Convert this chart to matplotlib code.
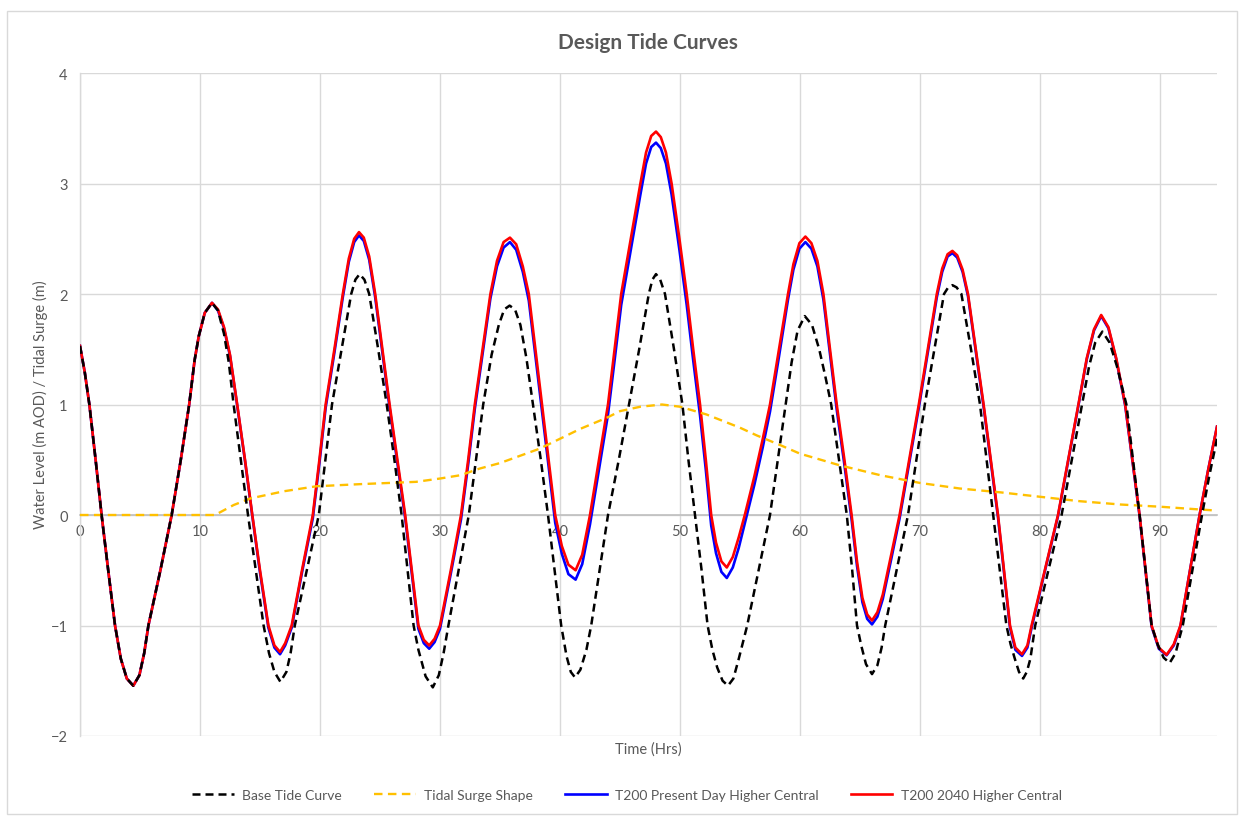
import matplotlib
matplotlib.use("Agg")
import matplotlib.pyplot as plt
from matplotlib.patches import Rectangle

plt.rcParams['font.family'] = ['Lato', 'DejaVu Sans']

# ---- data ----
t_t200 = [0, 0.4, 0.78, 1.3, 1.8, 2.35, 2.92, 3.4, 3.9, 4.44, 4.95, 5.35, 5.7, 6.7, 7.64, 8.4, 9.1,
          9.55, 9.9, 10.4, 11.0, 11.5, 12.0, 12.5, 13.1, 13.75, 14.36, 15.0, 15.7, 16.2, 16.67, 17.1,
          17.64, 18.5, 19.4, 19.95, 20.47, 21.2, 21.9, 22.4, 22.85, 23.25, 23.65, 24.1, 24.6, 25.2,
          25.8, 26.45, 27.1, 27.65, 28.2, 28.65, 29.1, 29.55, 30.0, 30.9, 31.75, 32.35, 32.9, 33.55,
          34.2, 34.75, 35.3, 35.83, 36.35, 36.9, 37.4, 37.95, 38.5, 39.05, 39.6, 40.15, 40.7, 41.3,
          41.85, 42.5, 43.25, 44.0, 44.55, 45.1, 45.9, 46.7, 47.17, 47.6, 48.0, 48.4, 48.83, 49.3,
          49.95, 50.56, 51.1, 51.67, 52.15, 52.6, 53.0, 53.45, 53.9, 54.4, 54.9, 55.4, 56.2, 56.9,
          57.5, 58.25, 59.0, 59.45, 59.95, 60.45, 60.95, 61.45, 61.95, 62.5, 63.06, 63.7, 64.3,
          64.75, 65.2, 65.6, 66.0, 66.45, 66.9, 67.6, 68.3, 69.1, 69.9, 70.65, 71.4, 71.85, 72.3,
          72.7, 73.1, 73.55, 74.0, 74.65, 75.3, 75.9, 76.5, 77.0, 77.5, 77.95, 78.5, 78.95, 79.3,
          80.4, 81.5, 82.35, 83.2, 83.9, 84.5, 85.1, 85.7, 86.35, 87.1, 87.7, 88.3, 88.8, 89.3,
          89.9, 90.55, 91.15, 91.7, 92.5, 93.3, 94.0, 94.75]

t200_2040 = [1.53, 1.29, 1.0, 0.5, 0.0, -0.5, -1.0, -1.3, -1.48, -1.545, -1.45, -1.25, -1.0, -0.5,
             0.0, 0.5, 1.0, 1.4, 1.62, 1.83, 1.92, 1.86, 1.70, 1.45, 1.0, 0.5, 0.0, -0.5, -1.0,
             -1.18, -1.24, -1.16, -1.0, -0.5, 0.0, 0.5, 1.0, 1.5, 2.0, 2.32, 2.50, 2.56, 2.51, 2.34,
             2.0, 1.5, 1.0, 0.5, 0.0, -0.5, -1.0, -1.13, -1.18, -1.12, -1.0, -0.5, 0.0, 0.5, 1.0,
             1.5, 2.0, 2.3, 2.47, 2.51, 2.45, 2.25, 2.0, 1.5, 1.0, 0.5, 0.0, -0.28, -0.45, -0.50,
             -0.36, 0.0, 0.5, 1.0, 1.5, 2.0, 2.5, 3.0, 3.28, 3.43, 3.47, 3.42, 3.28, 3.0, 2.5, 2.0,
             1.5, 1.0, 0.5, 0.0, -0.25, -0.42, -0.475, -0.38, -0.2, 0.0, 0.35, 0.69, 1.0, 1.5, 2.0,
             2.27, 2.46, 2.52, 2.46, 2.3, 2.0, 1.5, 1.0, 0.5, 0.0, -0.42, -0.75, -0.9, -0.955,
             -0.88, -0.72, -0.36, 0.0, 0.5, 1.0, 1.5, 2.0, 2.23, 2.36, 2.39, 2.35, 2.22, 2.0, 1.5,
             1.0, 0.5, 0.0, -0.5, -1.0, -1.2, -1.26, -1.18, -1.0, -0.5, 0.0, 0.5, 1.0, 1.42, 1.68,
             1.81, 1.7, 1.42, 1.0, 0.5, 0.0, -0.5, -1.0, -1.2, -1.265, -1.17, -1.0, -0.5, 0.0, 0.4,
             0.8]

t200_present = [1.53, 1.29, 1.0, 0.5, 0.0, -0.5, -1.0, -1.3, -1.48, -1.545, -1.45, -1.25, -1.0,
                -0.5, 0.0, 0.5, 1.0, 1.4, 1.62, 1.83, 1.92, 1.85, 1.69, 1.44, 0.99, 0.49, -0.01,
                -0.52, -1.02, -1.20, -1.26, -1.18, -1.02, -0.52, -0.03, 0.47, 0.97, 1.47, 1.97,
                2.29, 2.47, 2.53, 2.48, 2.31, 1.97, 1.47, 0.97, 0.47, -0.03, -0.53, -1.03, -1.16,
                -1.21, -1.15, -1.03, -0.53, -0.04, 0.46, 0.96, 1.46, 1.96, 2.25, 2.42, 2.47, 2.40,
                2.20, 1.94, 1.44, 0.94, 0.44, -0.07, -0.35, -0.535, -0.585, -0.445, -0.085, 0.415,
                0.91, 1.40, 1.90, 2.40, 2.90, 3.18, 3.33, 3.37, 3.32, 3.18, 2.90, 2.40, 1.90, 1.40,
                0.90, 0.41, -0.095, -0.345, -0.515, -0.57, -0.475, -0.295, -0.075, 0.275, 0.615,
                0.935, 1.435, 1.95, 2.22, 2.41, 2.47, 2.41, 2.25, 1.95, 1.455, 0.955, 0.455, -0.04,
                -0.46, -0.79, -0.94, -0.99, -0.92, -0.76, -0.40, -0.03, 0.47, 0.97, 1.47, 1.97, 2.20,
                2.34, 2.37, 2.33, 2.20, 1.98, 1.48, 0.98, 0.48, -0.02, -0.52, -1.02, -1.22, -1.275,
                -1.20, -1.02, -0.51, -0.01, 0.49, 0.99, 1.41, 1.67, 1.80, 1.69, 1.41, 0.99, 0.49,
                -0.01, -0.51, -1.01, -1.21, -1.27, -1.18, -1.01, -0.5, 0.0, 0.4, 0.8]

t_base = [0, 0.4, 0.78, 1.3, 1.8, 2.35, 2.92, 3.4, 3.9, 4.44, 4.95, 5.35, 5.7, 6.7, 7.64, 8.4, 9.1,
          9.55, 9.9, 10.4, 11.0, 11.5, 12.0, 12.4, 12.8, 13.4, 14.0, 14.65, 15.3, 15.75, 16.2, 16.7,
          17.2, 17.55, 17.9, 18.9, 19.9, 20.45, 21.0, 21.8, 22.6, 22.95, 23.3, 23.7, 24.1, 24.85,
          25.56, 26.2, 26.8, 27.3, 27.8, 28.2, 28.8, 29.4, 29.9, 30.3, 30.7, 31.55, 32.4, 33.0,
          33.6, 34.3, 34.9, 35.35, 35.8, 36.25, 36.7, 37.2, 37.75, 38.4, 39.0, 39.55, 40.1, 40.55,
          40.9, 41.25, 41.7, 42.2, 42.6, 43.3, 44.0, 44.9, 45.75, 46.6, 47.4, 47.7, 48.0, 48.35,
          48.75, 49.5, 50.2, 50.7, 51.25, 51.8, 52.3, 52.7, 53.1, 53.55, 54.0, 54.45, 54.9, 55.6,
          56.55, 57.5, 58.15, 58.8, 59.3, 59.8, 60.4, 61.0, 61.6, 62.1, 62.6, 63.25, 63.9, 64.35,
          64.75, 65.1, 65.5, 66.0, 66.45, 66.8, 67.1, 68.05, 69.0, 69.7, 70.4, 71.2, 72.0, 72.35,
          72.7, 73.05, 73.45, 74.25, 75.0, 75.55, 76.1, 76.65, 77.2, 77.55, 77.9, 78.25, 78.6,
          78.9, 79.2, 79.6, 80.7, 81.8, 82.65, 83.5, 84.1, 84.6, 85.2, 85.8, 86.4, 87.2, 87.75,
          88.3, 88.8, 89.3, 89.8, 90.3, 90.8, 91.3, 91.6, 91.9, 92.7, 93.5, 94.1, 94.75]

base_tide = [1.53, 1.29, 1.0, 0.5, 0.0, -0.5, -1.0, -1.3, -1.48, -1.545, -1.45, -1.25, -1.0, -0.5,
             0.0, 0.5, 1.0, 1.4, 1.62, 1.83, 1.92, 1.85, 1.64, 1.38, 1.0, 0.5, 0.0, -0.5, -1.0,
             -1.25, -1.42, -1.51, -1.42, -1.25, -1.0, -0.5, 0.0, 0.5, 1.0, 1.5, 2.0, 2.13, 2.18,
             2.13, 2.0, 1.5, 1.0, 0.5, 0.0, -0.5, -1.0, -1.22, -1.46, -1.56, -1.45, -1.25, -1.0,
             -0.5, 0.0, 0.5, 1.0, 1.45, 1.72, 1.86, 1.895, 1.86, 1.72, 1.42, 1.0, 0.5, 0.0, -0.5,
             -1.0, -1.28, -1.42, -1.47, -1.4, -1.22, -1.0, -0.5, 0.0, 0.5, 1.0, 1.5, 2.0, 2.13,
             2.18, 2.13, 2.0, 1.5, 1.0, 0.5, 0.0, -0.5, -1.0, -1.22, -1.38, -1.5, -1.545, -1.48,
             -1.3, -1.0, -0.5, 0.0, 0.5, 1.0, 1.38, 1.67, 1.80, 1.72, 1.5, 1.26, 1.0, 0.5, 0.0,
             -0.5, -1.0, -1.18, -1.35, -1.44, -1.36, -1.2, -1.0, -0.5, 0.0, 0.5, 1.0, 1.5, 2.0,
             2.06, 2.08, 2.06, 2.0, 1.5, 1.0, 0.5, 0.0, -0.5, -1.0, -1.17, -1.3, -1.42, -1.48,
             -1.42, -1.3, -1.0, -0.5, 0.0, 0.5, 1.0, 1.35, 1.56, 1.66, 1.56, 1.35, 1.0, 0.5, 0.0,
             -0.5, -1.0, -1.17, -1.29, -1.34, -1.25, -1.12, -1.0, -0.5, 0.0, 0.35, 0.69]

t_surge = [0, 11.25, 12.8, 14.2, 17, 19.7, 23.5, 28, 30, 31.7, 33.3, 35, 38.3, 41.7, 43.9, 45, 46.7,
           48.5, 50, 52.2, 55, 56.4, 58.3, 60, 63.3, 66.7, 70, 73.3, 76.7, 80, 83.3, 86.7, 90, 93.3,
           94.75]
surge = [0, 0, 0.09, 0.15, 0.215, 0.26, 0.28, 0.30, 0.33, 0.36, 0.42, 0.47, 0.60, 0.78, 0.88, 0.94,
         0.98, 1.0, 0.98, 0.91, 0.79, 0.72, 0.635, 0.555, 0.45, 0.36, 0.29, 0.24, 0.205, 0.165, 0.125,
         0.095, 0.075, 0.05, 0.04]

x_ticks = [0, 10, 20, 30, 40, 50, 60, 70, 80, 90]
y_ticks = [-2, -1, 0, 1, 2, 3, 4]

# ---- figure ----
W, H = 1243, 820
fig = plt.figure(figsize=(W / 100, H / 100), dpi=100)
fig.patch.set_facecolor('white')
fig.patches.append(Rectangle((7 / W, 1 - 815 / H), 1230 / W, 803 / H, transform=fig.transFigure,
                             fill=False, edgecolor='#d9d9d9', linewidth=1.0))

ax = fig.add_axes([80 / W, 1 - 737 / H, (1217 - 80) / W, (737 - 74) / H])
txt = '#595959'
grid = '#d9d9d9'

ax.plot(t_t200, t200_present, color='#0000ff', lw=1.9, zorder=3, solid_joinstyle='round',
        label='T200 Present Day Higher Central')
ax.plot(t_t200, t200_2040, color='#ff0000', lw=1.9, zorder=4, solid_joinstyle='round',
        label='T200 2040 Higher Central')
ax.plot(t_surge, surge, color='#ffc000', lw=1.7, dashes=(3.6, 2.3), zorder=5,
        label='Tidal Surge Shape')
ax.plot(t_base, base_tide, color='black', lw=1.8, dashes=(3.2, 2.0), zorder=6,
        label='Base Tide Curve')

ax.set_xlim(0, 94.75)
ax.set_ylim(-2, 4)
ax.set_xticks(x_ticks)
ax.set_yticks(y_ticks)
ax.grid(True, color=grid, lw=1.0, zorder=0)
ax.set_axisbelow(True)
for s in ['top', 'right']:
    ax.spines[s].set_visible(False)
ax.spines['left'].set_color(grid)
ax.spines['left'].set_linewidth(1.0)
ax.spines['bottom'].set_position(('data', 0))
ax.spines['bottom'].set_color('#bfbfbf')
ax.spines['bottom'].set_linewidth(1.2)
ax.tick_params(axis='both', length=0, labelsize=10.5, labelcolor=txt)
ax.tick_params(axis='x', pad=6.5)
ax.tick_params(axis='y', pad=9)

fig.text(648 / W, 1 - 43 / H, 'Design Tide Curves', ha='center', va='center',
         fontsize=15, fontweight='bold', color=txt)
fig.text(648 / W, 1 - 750 / H, 'Time (Hrs)', ha='center', va='center', fontsize=10.5, color=txt)
fig.text(40 / W, 1 - 405 / H, 'Water Level (m AOD) / Tidal Surge (m)', ha='center', va='center',
         rotation=90, fontsize=10.5, color=txt)

handles, labels = ax.get_legend_handles_labels()
order = [3, 2, 0, 1]
leg = fig.legend([handles[i] for i in order], [labels[i] for i in order], loc='center',
                 bbox_to_anchor=(627 / W, 1 - 796 / H), ncol=4, frameon=False, fontsize=10,
                 handlelength=3.0, handletextpad=0.6, columnspacing=2.3)
for t in leg.get_texts():
    t.set_color(txt)

fig.savefig('out.png', dpi=100)
